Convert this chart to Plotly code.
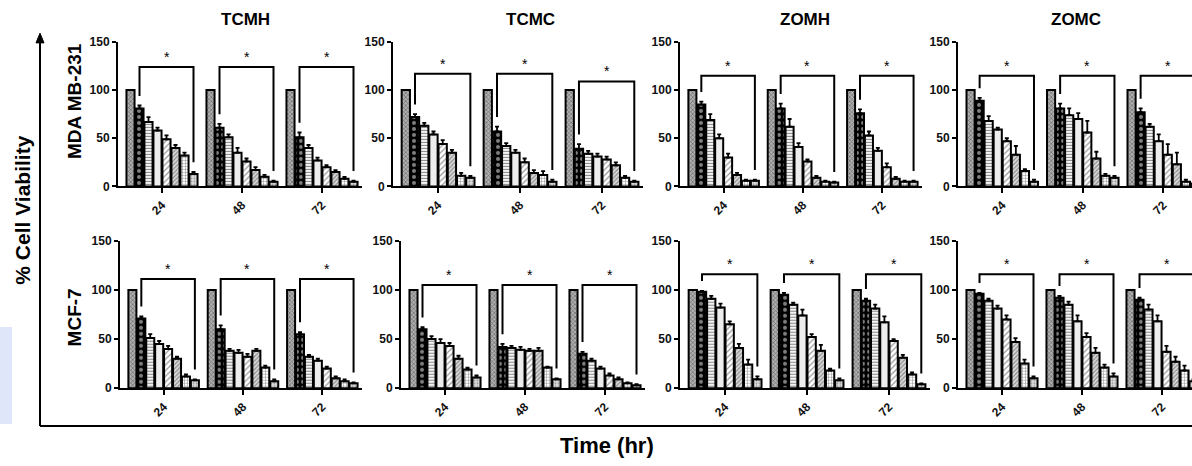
import plotly.graph_objects as go

W, H = 1192, 466

# ---------------- data ----------------
times = ["24", "48", "72"]
extracts = ["TCMH", "TCMC", "ZOMH", "ZOMC"]
cell_lines = ["MDA MB-231", "MCF-7"]

# % viability: one list per time point (24, 48, 72 h), 8 bars each (control + 7 doses)
mda_tcmh = [[100, 81, 67, 58, 49, 40, 32, 13], [100, 61, 51, 35, 26, 17, 10, 5], [100, 51, 40, 27, 20, 15, 8, 5]]
mda_tcmc = [[100, 72, 63, 54, 44, 35, 11, 9], [100, 57, 42, 35, 25, 14, 12, 5], [100, 39, 34, 31, 28, 22, 9, 5]]
mda_zomh = [[100, 85, 69, 50, 30, 12, 6, 6], [100, 81, 62, 41, 26, 9, 5, 4], [100, 76, 53, 37, 20, 8, 5, 5]]
mda_zomc = [[100, 89, 68, 59, 47, 33, 16, 5], [100, 81, 74, 70, 56, 29, 11, 9], [100, 77, 62, 47, 33, 23, 5, 3]]
mcf_tcmh = [[100, 71, 51, 45, 40, 30, 12, 8], [100, 60, 38, 36, 32, 38, 21, 7], [100, 55, 32, 28, 20, 10, 7, 5]]
mcf_tcmc = [[100, 60, 50, 46, 43, 30, 19, 11], [100, 42, 41, 39, 38, 38, 21, 9], [100, 35, 28, 20, 13, 9, 5, 3]]
mcf_zomh = [[100, 98, 91, 82, 65, 41, 24, 9], [100, 95, 85, 74, 52, 38, 18, 8], [100, 89, 81, 67, 48, 31, 14, 4]]
mcf_zomc = [[100, 96, 89, 81, 70, 47, 25, 10], [100, 92, 85, 68, 52, 36, 21, 12], [100, 90, 80, 68, 37, 27, 18, 7]]

# upper error (SD)
err_mda_tcmh = [[0, 3, 5, 3, 4, 3, 3, 2], [0, 4, 3, 5, 3, 3, 2, 1], [0, 5, 3, 3, 2, 2, 2, 1]]
err_mda_tcmc = [[0, 3, 3, 3, 4, 3, 3, 2], [0, 5, 3, 3, 4, 3, 4, 2], [0, 5, 3, 3, 3, 3, 2, 1]]
err_mda_zomh = [[0, 3, 6, 4, 4, 2, 1, 1], [0, 5, 8, 4, 2, 2, 1, 1], [0, 4, 4, 3, 4, 2, 1, 1]]
err_mda_zomc = [[0, 3, 5, 2, 3, 9, 2, 2], [0, 5, 7, 6, 12, 7, 2, 2], [0, 4, 3, 7, 11, 12, 2, 2]]
err_mcf_tcmh = [[0, 2, 4, 3, 3, 2, 2, 1], [0, 4, 2, 3, 3, 2, 2, 2], [0, 2, 2, 2, 2, 2, 2, 1]]
err_mcf_tcmc = [[0, 2, 3, 4, 3, 3, 2, 2], [0, 3, 2, 3, 2, 3, 1, 1], [0, 2, 2, 2, 2, 2, 1, 1]]
err_mcf_zomh = [[0, 1, 3, 4, 3, 4, 5, 3], [0, 2, 2, 6, 3, 6, 2, 2], [0, 2, 4, 6, 2, 3, 2, 1]]
err_mcf_zomc = [[0, 1, 2, 3, 4, 4, 4, 2], [0, 2, 3, 6, 4, 5, 3, 3], [0, 2, 5, 6, 6, 5, 5, 2]]

# significance bracket heights (per time point)
br_mda_tcmh = [124, 124, 124]
br_mda_tcmc = [117, 117, 109]
br_mda_zomh = [115, 115, 115]
br_mda_zomc = [115, 115, 115]
br_mcf_tcmh = [111, 111, 111]
br_mcf_tcmc = [105, 105, 105]
br_mcf_zomh = [116, 116, 116]
br_mcf_zomc = [116, 116, 116]

y_ticks = [0, 50, 100, 150]

VALUES = [[mda_tcmh, mda_tcmc, mda_zomh, mda_zomc], [mcf_tcmh, mcf_tcmc, mcf_zomh, mcf_zomc]]
ERRORS = [[err_mda_tcmh, err_mda_tcmc, err_mda_zomh, err_mda_zomc],
          [err_mcf_tcmh, err_mcf_tcmc, err_mcf_zomh, err_mcf_zomc]]
BRACKETS = [[br_mda_tcmh, br_mda_tcmc, br_mda_zomh, br_mda_zomc],
            [br_mcf_tcmh, br_mcf_tcmc, br_mcf_zomh, br_mcf_zomc]]

# ---------------- styling ----------------
FONT = "Liberation Sans, Arial, sans-serif"
PATTERNS = [
    dict(color="#9a9a9a", pattern=dict(shape="x", fgcolor="#222", bgcolor="#b0b0b0", size=3, solidity=0.4)),
    dict(color="black", pattern=dict(shape=".", fgcolor="white", bgcolor="black", size=6, solidity=0.35)),
    dict(color="white", pattern=dict(shape="-", fgcolor="#111", bgcolor="white", size=3, solidity=0.4)),
    dict(color="#ededed", pattern=dict(shape="")),
    dict(color="white", pattern=dict(shape="/", fgcolor="#333", bgcolor="white", size=4, solidity=0.3)),
    dict(color="#ccc", pattern=dict(shape="/", fgcolor="#333", bgcolor="#d8d8d8", size=3, solidity=0.35)),
    dict(color="white", pattern=dict(shape="+", fgcolor="#111", bgcolor="white", size=3, solidity=0.3)),
    dict(color="#ddd", pattern=dict(shape=".", fgcolor="#555", bgcolor="#dddddd", size=3, solidity=0.3)),
]

ROW_Y = [(185, 36), (393, 241)]  # pixel (bottom, top)
X_DOM = [[(118, 362), (393, 643), (680, 922), (958, 1192)],
         [(120, 362), (401, 645), (680, 930), (958, 1192)]]
X_END = [[2.5, 2.5, 2.5, 2.357], [2.5, 2.5, 2.5, 2.375]]

NB = 8
BARGAP = 0.1
slot = (1 - BARGAP) / NB


def bar_center(g, k):
    return g - (1 - BARGAP) / 2 + (k + 0.5) * slot


fig = go.Figure()
annotations = []
layout_axes = {}

for r in range(2):
    for c in range(4):
        n = r * 4 + c + 1
        xa = "x" if n == 1 else f"x{n}"
        ya = "y" if n == 1 else f"y{n}"
        vals = VALUES[r][c]
        errs = ERRORS[r][c]
        for k in range(NB):
            st = PATTERNS[k]
            fig.add_trace(go.Bar(
                x=[0, 1, 2], y=[vals[g][k] for g in range(3)],
                xaxis=xa, yaxis=ya, showlegend=False,
                marker=dict(color=st["color"], pattern=st["pattern"],
                            line=dict(color="black", width=2)),
                error_y=dict(type="data", symmetric=False,
                             array=[errs[g][k] for g in range(3)],
                             arrayminus=[0, 0, 0],
                             color="black", thickness=1.8, width=2),
            ))
        # significance brackets
        bx, by = [], []
        for g in range(3):
            xl, xr = bar_center(g, 1), bar_center(g, NB - 1)
            top = BRACKETS[r][c][g]
            yl = vals[g][1] + errs[g][1] + 10
            yr = vals[g][NB - 1] + errs[g][NB - 1] + 10
            bx += [xl, xl, xr, xr, None]
            by += [yl, top, top, yr, None]
            annotations.append(dict(x=(xl + xr) / 2, y=top, xref=xa, yref=ya, text="*",
                                    showarrow=False, xanchor="center", yanchor="bottom",
                                    font=dict(family=FONT, size=14, color="black")))
        fig.add_trace(go.Scatter(x=bx, y=by, xaxis=xa, yaxis=ya, mode="lines",
                                 line=dict(color="black", width=2), showlegend=False,
                                 hoverinfo="skip"))

        x0, x1 = X_DOM[r][c]
        yb, yt = ROW_Y[r]
        suffix = "" if n == 1 else str(n)
        layout_axes[f"xaxis{suffix}"] = dict(
            domain=[x0 / W, x1 / W], anchor=ya, range=[-0.55, X_END[r][c]],
            tickvals=[0, 1, 2], ticktext=times, tickangle=-45,
            ticks="outside", ticklen=5, tickwidth=1.5, tickcolor="black",
            showline=True, linecolor="black", linewidth=2,
            showgrid=False, zeroline=False, fixedrange=True,
            tickfont=dict(family=FONT, size=12, color="#111", weight="bold"),
        )
        layout_axes[f"yaxis{suffix}"] = dict(
            domain=[1 - yb / H, 1 - yt / H], anchor=xa, range=[0, 150],
            tickvals=y_ticks, ticks="outside", ticklen=4, tickwidth=1.5, tickcolor="black",
            showline=True, linecolor="black", linewidth=2,
            showgrid=False, zeroline=False, fixedrange=True,
            tickfont=dict(family=FONT, size=12, color="#111", weight="bold"),
        )


def label(x, y, text, size, angle=0):
    return dict(x=x / W, y=1 - y / H, xref="paper", yref="paper", text=f"<b>{text}</b>",
                showarrow=False, textangle=angle, xanchor="center", yanchor="middle",
                font=dict(family=FONT, size=size, color="black"))


# titles
title_x = [245, 530, 805, 1076]
for name, tx in zip(extracts, title_x):
    annotations.append(label(tx, 13, name, 17))

# row labels
row_lab_y = [97, 320]
for name, ry in zip(cell_lines, row_lab_y):
    annotations.append(label(74, ry, name, 19, -90))

annotations.append(label(23, 210, "% Cell Viability", 21, -90))
annotations.append(label(607, 452, "Time (hr)", 22))

AX_X, AX_TOP, AX_BOT = 40, 27, 432
shapes = [
    dict(type="line", xref="paper", yref="paper", x0=AX_X / W, x1=1.0,
         y0=1 - AX_BOT / H, y1=1 - AX_BOT / H, line=dict(color="black", width=2)),
    dict(type="line", xref="paper", yref="paper", x0=AX_X / W, x1=AX_X / W,
         y0=1 - AX_BOT / H, y1=1 - (AX_TOP + 2) / H, line=dict(color="black", width=2)),
    dict(type="path", xref="paper", yref="paper",
         path=(f"M {(AX_X - 4) / W} {1 - (AX_TOP + 10) / H} L {AX_X / W} {1 - AX_TOP / H} "
               f"L {(AX_X + 4) / W} {1 - (AX_TOP + 10) / H} Z"),
         fillcolor="black", line=dict(color="black", width=1)),
    dict(type="rect", xref="paper", yref="paper", x0=0, x1=12 / W,
         y0=1 - 430 / H, y1=1 - 330 / H, fillcolor="#dfe6fa", line=dict(width=0), layer="below"),
]

fig.update_layout(
    width=W, height=H, margin=dict(l=0, r=0, t=0, b=0),
    paper_bgcolor="white", plot_bgcolor="white",
    barmode="group", bargap=BARGAP, bargroupgap=0.1,
    annotations=annotations, shapes=shapes, showlegend=False,
    **layout_axes,
)

fig.write_html("out.html", config={"displayModeBar": False},
               post_script="document.body.style.margin='0';document.body.style.overflow='hidden';")
